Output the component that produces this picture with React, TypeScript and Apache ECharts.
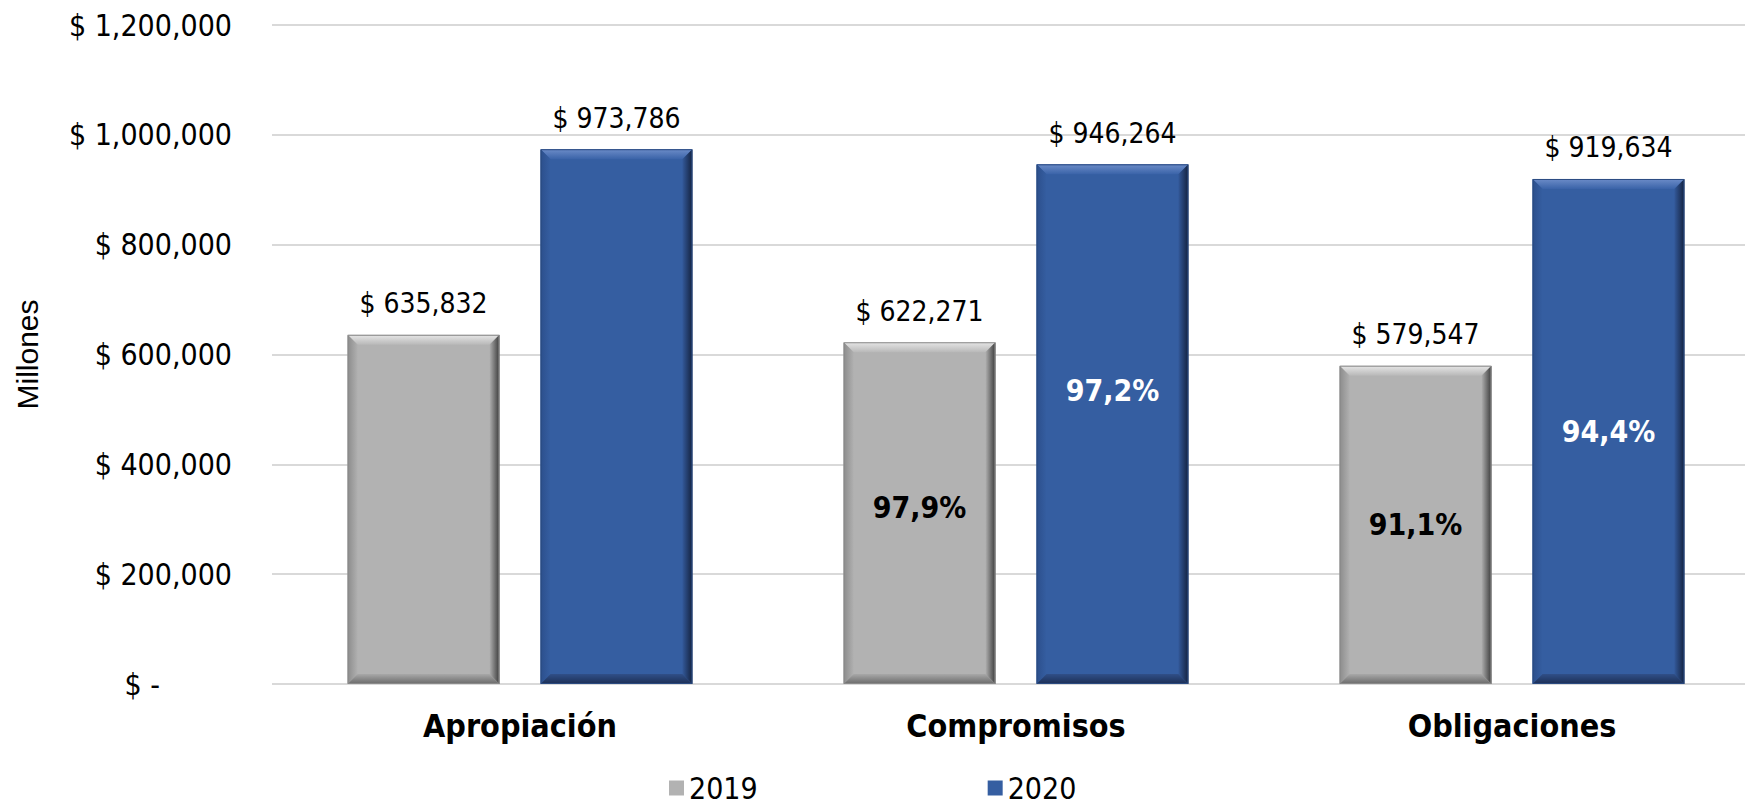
import React, { useEffect, useRef } from "react";
import * as echarts from "echarts";

const categories = ["Apropiación", "Compromisos", "Obligaciones"];
const years = ["2019", "2020"];
const values2019 = [635832, 622271, 579547];
const values2020 = [973786, 946264, 919634];
const pct2019 = ["", "97,9%", "91,1%"];
const pct2020 = ["", "97,2%", "94,4%"];
const pctShift2019 = [0, -6, 0];
const pctShift2020 = [0, -34, 0];
const yTicks = { min: 0, max: 1200000, interval: 200000 };

const FONT = '"DejaVu Sans Condensed", "DejaVu Sans", sans-serif';

const palettes = [
  {
    face: "#B2B2B2",
    top: ["#E6E6E6", "#B8B8B8"],
    left: ["#8C8C8C", "#B0B0B0"],
    right: ["#B0B0B0", "#3C3C3C"],
    bottom: ["#A8A8A8", "#6A6A6A"],
    edge: "#8A8A8A",
    pctColor: "#000000",
  },
  {
    face: "#355EA1",
    top: ["#6C8CC8", "#3A63A8"],
    left: ["#2C4F8C", "#355EA1"],
    right: ["#33599A", "#14223F"],
    bottom: ["#304F88", "#1C2F55"],
    edge: "#2A4A80",
    pctColor: "#FFFFFF",
  },
];

const fmt = (v: number) => "$ " + v.toLocaleString("en-US");

function makeRender(sIdx: number, pcts: string[], shifts: number[]) {
  const pal = palettes[sIdx];
  const sign = sIdx === 0 ? -1 : 1;
  return (params: any, api: any) => {
    const cat = api.value(0);
    const v = api.value(1);
    const top = api.coord([cat, v]);
    const bot = api.coord([cat, 0]);
    const band = api.size([1, 0])[0];
    const bw = band * 0.306;
    const gap = band * 0.083;
    const cx = top[0] + (sign * (bw + gap)) / 2;
    const x0 = cx - bw / 2;
    const x1 = cx + bw / 2;
    const y0 = top[1];
    const y1 = bot[1];
    const b = 10;
    const lg = (x: number, y: number, x2: number, y2: number, c: string[]) =>
      new echarts.graphic.LinearGradient(x, y, x2, y2, [
        { offset: 0, color: c[0] },
        { offset: 1, color: c[1] },
      ]);
    const children: any[] = [
      { type: "rect", shape: { x: x0, y: y0, width: bw, height: y1 - y0 }, style: { fill: pal.face } },
      {
        type: "polygon",
        shape: { points: [[x0, y0], [x1, y0], [x1 - b, y0 + b], [x0 + b, y0 + b]] },
        style: { fill: lg(0, 0, 0, 1, pal.top) },
      },
      {
        type: "polygon",
        shape: { points: [[x0, y0], [x0 + b, y0 + b], [x0 + b, y1 - b], [x0, y1]] },
        style: { fill: lg(0, 0, 1, 0, pal.left) },
      },
      {
        type: "polygon",
        shape: { points: [[x1, y0], [x1, y1], [x1 - b, y1 - b], [x1 - b, y0 + b]] },
        style: { fill: lg(0, 0, 1, 0, pal.right) },
      },
      {
        type: "polygon",
        shape: { points: [[x0, y1], [x0 + b, y1 - b], [x1 - b, y1 - b], [x1, y1]] },
        style: { fill: lg(0, 0, 0, 1, pal.bottom) },
      },
      {
        type: "rect",
        shape: { x: x0 + 0.5, y: y0 + 0.5, width: bw - 1, height: y1 - y0 - 1 },
        style: { fill: "none", stroke: pal.edge, lineWidth: 1 },
      },
      {
        type: "text",
        x: cx,
        y: y0 - 31,
        style: {
          text: fmt(v),
          fill: "#000000",
          font: `28px ${FONT}`,
          align: "center",
          verticalAlign: "middle",
          textAlign: "center",
          textVerticalAlign: "middle",
        },
      },
    ];
    const p = pcts[params.dataIndex];
    if (p) {
      children.push({
        type: "text",
        x: cx,
        y: (y0 + y1) / 2 + shifts[params.dataIndex],
        style: {
          text: p,
          fill: pal.pctColor,
          font: `bold 30px ${FONT}`,
          align: "center",
          verticalAlign: "middle",
          textAlign: "center",
          textVerticalAlign: "middle",
        },
      });
    }
    return { type: "group", children };
  };
}

export default function App() {
  const ref = useRef<HTMLDivElement>(null);
  useEffect(() => {
    document.body.style.margin = "0";
    if (!ref.current) return;
    const chart = echarts.init(ref.current, null, { renderer: "svg" });
    chart.setOption({
      animation: false,
      backgroundColor: "#FFFFFF",
      grid: { left: 272, top: 25, width: 1488, height: 659, outerBoundsMode: "none", containLabel: false },
      legend: {
        data: years,
        left: 664,
        top: 768,
        itemWidth: 15,
        itemHeight: 15,
        itemGap: 230,
        icon: "rect",
        textStyle: { fontSize: 30, lineHeight: 30, fontFamily: FONT, color: "#000000" },
      },
      xAxis: {
        type: "category",
        data: categories,
        axisLine: { show: false },
        axisTick: { show: false },
        axisLabel: {
          margin: 26,
          fontSize: 32,
          fontWeight: "bold",
          fontFamily: FONT,
          color: "#000000",
        },
      },
      yAxis: {
        type: "value",
        min: yTicks.min,
        max: yTicks.max,
        interval: yTicks.interval,
        name: "Millones",
        nameLocation: "middle",
        nameGap: 230,
        nameTextStyle: { fontSize: 30, fontFamily: '"Liberation Sans", Arial, sans-serif', color: "#000000" },
        axisLine: { show: false },
        axisTick: { show: false },
        splitLine: { lineStyle: { color: "#D9D9D9", width: 2 } },
        axisLabel: {
          margin: 40,
          fontSize: 30,
          fontFamily: FONT,
          color: "#000000",
          formatter: (v: number) => (v === 0 ? "{z|$ -}" : fmt(v)),
          rich: { z: { fontSize: 30, fontFamily: FONT, color: "#000000", padding: [0, 72, 0, 0] } },
        },
      },
      series: [
        {
          name: years[0],
          type: "custom",
          itemStyle: { color: palettes[0].face },
          renderItem: makeRender(0, pct2019, pctShift2019),
          data: values2019.map((v, i) => [i, v]),
          encode: { x: 0, y: 1 },
        },
        {
          name: years[1],
          type: "custom",
          itemStyle: { color: palettes[1].face },
          renderItem: makeRender(1, pct2020, pctShift2020),
          data: values2020.map((v, i) => [i, v]),
          encode: { x: 0, y: 1 },
        },
      ],
    });
    return () => chart.dispose();
  }, []);
  return <div ref={ref} style={{ width: 1745, height: 805 }} />;
}
